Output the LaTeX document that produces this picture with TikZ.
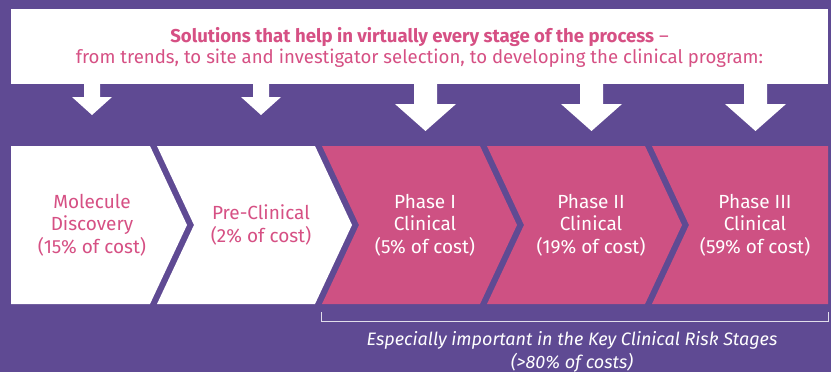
\documentclass[tikz,border=0pt]{standalone}
\usepackage{fontspec}
\setmainfont{Fira Sans}
\begin{document}
\begin{tikzpicture}[x=1pt,y=-1pt,
  lightstage/.style={fill=white},
  darkstage/.style={fill=pinkFill},
  downarrow/.style={fill=white},
  stagetext/.style={align=center,font=\fontsize{19}{22.5}\selectfont,inner sep=0pt},
  bannertext/.style={align=center,text=pinkText,font=\fontsize{18.6}{21.5}\selectfont,inner sep=0pt},
  notetext/.style={align=center,text=white,font=\fontsize{18}{23}\selectfont\itshape,inner sep=0pt}]
\definecolor{purpleBg}{RGB}{95,74,147}
\definecolor{pinkFill}{RGB}{206,81,131}
\definecolor{pinkText}{RGB}{214,80,132}
\definecolor{noteLine}{RGB}{225,222,235}

% canvas
\fill[purpleBg] (0,0) rectangle (831,372);
\useasboundingbox (0,0) rectangle (831,372);

% banner
\node[fill=white,minimum width=817pt,minimum height=75pt,inner sep=0pt,anchor=north west] (banner) at (11,9) {};
\node[bannertext] (bannerTxt) at (419.5,47.5)
  {\textbf{Solutions that help in virtually every stage of the process} –\\
   from trends, to site and investigator selection, to developing the clinical program:};

% stage chevrons
\def\yt{146}\def\ym{225}\def\yb{304}
\fill[lightstage] (11,\yt) -- (150,\yt) -- (187,\ym) -- (150,\yb) -- (11,\yb) -- cycle;
\fill[lightstage] (157,\yt) -- (315,\yt) -- (352,\ym) -- (315,\yb) -- (157,\yb) -- (194,\ym) -- cycle;
\fill[darkstage] (322,\yt) -- (480,\yt) -- (517,\ym) -- (480,\yb) -- (322,\yb) -- (359,\ym) -- cycle;
\fill[darkstage] (487,\yt) -- (645,\yt) -- (682,\ym) -- (645,\yb) -- (487,\yb) -- (524,\ym) -- cycle;
\fill[darkstage] (652,\yt) -- (828,\yt) -- (828,\yb) -- (652,\yb) -- (689,\ym) -- cycle;

\node[stagetext,text=pinkText] (s1) at (92,\ym)  {Molecule\\Discovery\\(15\% of cost)};
\node[stagetext,text=pinkText] (s2) at (261,\ym) {Pre-Clinical\\(2\% of cost)};
\node[stagetext,text=white]    (s3) at (425,\ym) {Phase I\\Clinical\\(5\% of cost)};
\node[stagetext,text=white]    (s4) at (591,\ym) {Phase II\\Clinical\\(19\% of cost)};
\node[stagetext,text=white]    (s5) at (755,\ym) {Phase III\\Clinical\\(59\% of cost)};

% arrows from banner to stages
\foreach \cx in {92,261}
  \fill[downarrow] (\cx-8,83) -- (\cx+8,83) -- (\cx+8,97) -- (\cx+20,97) -- (\cx,115) -- (\cx-20,97) -- (\cx-8,97) -- cycle;
\foreach \cx in {425.5,591.5,755.5}
  \fill[downarrow] (\cx-11.5,83) -- (\cx+11.5,83) -- (\cx+11.5,104) -- (\cx+30.5,104) -- (\cx,131) -- (\cx-30.5,104) -- (\cx-11.5,104) -- cycle;

% bracket over the clinical stages
\coordinate (bl) at (321,312);
\coordinate (br) at (828,312);
\draw[noteLine,line width=1pt] (bl) -- ++(0,9) -| (br);
\node[notetext] (note) at (572,351.5)
  {Especially important in the Key Clinical Risk Stages\\(>80\% of costs)};
\end{tikzpicture}
\end{document}
